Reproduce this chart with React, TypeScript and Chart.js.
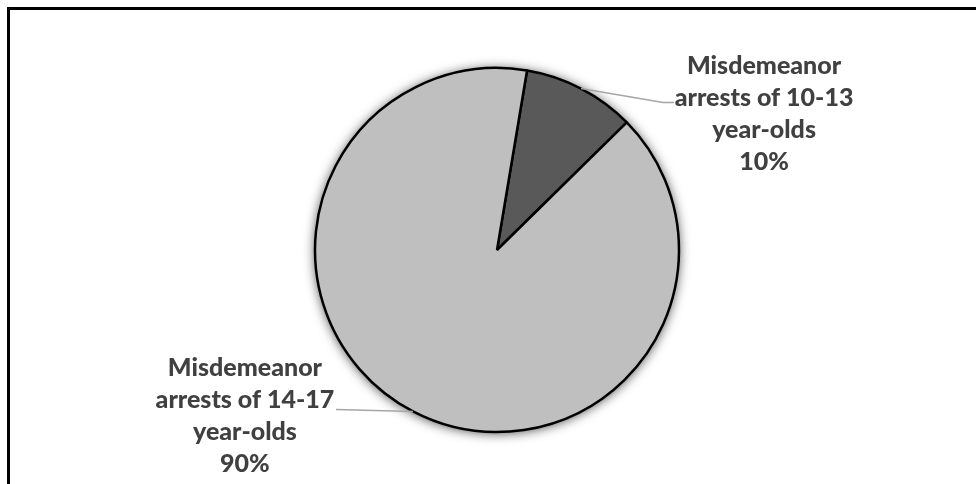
import React, { useEffect, useRef } from "react";
import { Chart, registerables } from "chart.js";

Chart.register(...registerables);

// Slice names (one entry per printed line) and their values in percent
const categoryLines: string[][] = [
  ["Misdemeanor", "arrests of 10-13", "year-olds"],
  ["Misdemeanor", "arrests of 14-17", "year-olds"],
];
const shareValues: number[] = [10, 90];
const sliceColors: string[] = ["#595959", "#bfbfbf"];

// Where each callout sits relative to its slice's rim point
const callouts = [
  { dx: 183, dy: -15, leader: [[82, 14], [93, 14]] },
  { dx: -168, dy: -35, leader: [[-77, -2]] },
];

const FONT = "900 25px Lato";
const LINE_H = 32;

const calloutPlugin = {
  id: "calloutLabels",
  beforeDatasetsDraw(chart: any) {
    // soft shadow behind the pie
    const meta = chart.getDatasetMeta(0);
    const arc = meta.data[0];
    if (!arc) return;
    const { x, y, outerRadius } = arc.getProps(["x", "y", "outerRadius"], true);
    const ctx = chart.ctx;
    ctx.save();
    ctx.shadowColor = "rgba(0,0,0,0.75)";
    ctx.shadowBlur = 12;
    ctx.shadowOffsetX = 0;
    ctx.shadowOffsetY = 1;
    ctx.fillStyle = "#bfbfbf";
    ctx.beginPath();
    ctx.arc(x, y, outerRadius, 0, Math.PI * 2);
    ctx.fill();
    ctx.restore();
  },
  afterDatasetsDraw(chart: any) {
    const ctx = chart.ctx;
    const meta = chart.getDatasetMeta(0);
    const values = chart.data.datasets[0].data as number[];
    const total = values.reduce((a, b) => a + b, 0);
    meta.data.forEach((el: any, i: number) => {
      const { x, y, startAngle, endAngle, outerRadius } = el.getProps(
        ["x", "y", "startAngle", "endAngle", "outerRadius"],
        true
      );
      const mid = (startAngle + endAngle) / 2;
      const ax = x + Math.cos(mid) * outerRadius;
      const ay = y + Math.sin(mid) * outerRadius;
      const c = callouts[i];

      // leader line from the rim to the text
      ctx.save();
      ctx.strokeStyle = "#a6a6a6";
      ctx.lineWidth = 1.5;
      ctx.beginPath();
      ctx.moveTo(ax, ay);
      c.leader.forEach(([lx, ly]) => ctx.lineTo(ax + lx, ay + ly));
      ctx.stroke();
      ctx.restore();

      // label text
      const lines = [...categoryLines[i], `${Math.round((values[i] / total) * 100)}%`];
      ctx.save();
      ctx.font = FONT;
      ctx.fillStyle = "#404040";
      ctx.textAlign = "center";
      ctx.textBaseline = "alphabetic";
      lines.forEach((t, k) => {
        ctx.fillText(t, ax + c.dx, ay + c.dy + k * LINE_H);
      });
      ctx.restore();
    });
  },
};

export default function App() {
  const canvasRef = useRef<HTMLCanvasElement | null>(null);

  useEffect(() => {
    if (!canvasRef.current) return;
    const chart = new Chart(canvasRef.current, {
      type: "pie",
      data: {
        labels: categoryLines.map((l) => l.join(" ")),
        datasets: [
          {
            data: shareValues,
            backgroundColor: sliceColors,
            borderColor: "#000000",
            borderWidth: 2.5,
          },
        ],
      },
      options: {
        animation: false,
        responsive: false,
        rotation: 9.5,
        radius: 182,
        layout: { padding: { left: 18, right: 0, top: 16, bottom: 0 } },
        plugins: {
          legend: { display: false },
          tooltip: { enabled: false },
        },
      } as any,
      plugins: [calloutPlugin],
    });
    return () => chart.destroy();
  }, []);

  return (
    <div
      style={{
        position: "fixed",
        left: 0,
        top: 0,
        width: 976,
        height: 484,
        overflow: "hidden",
        background: "#ffffff",
      }}
    >
      <div
        style={{
          position: "absolute",
          left: 7,
          top: 7,
          width: 1200,
          height: 800,
          borderLeft: "3px solid #000",
          borderTop: "3px solid #000",
          boxSizing: "border-box",
        }}
      />
      <canvas
        ref={canvasRef}
        width={976}
        height={484}
        style={{ position: "absolute", left: 0, top: 0, width: 976, height: 484 }}
      />
    </div>
  );
}
